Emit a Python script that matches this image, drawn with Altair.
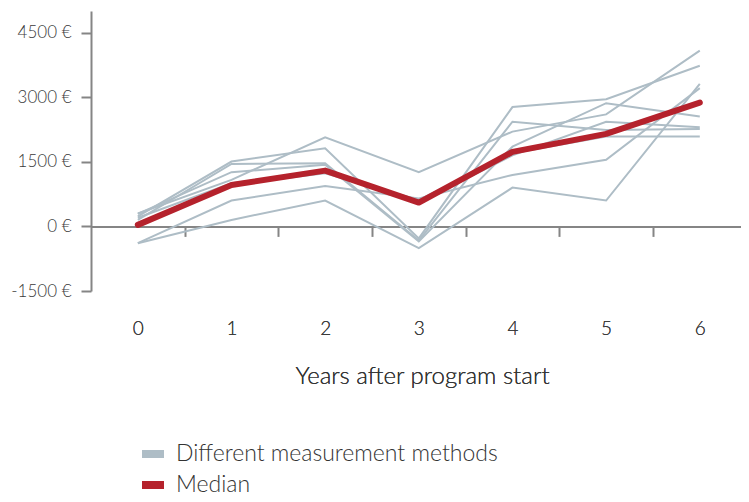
import altair as alt
import pandas as pd

years = [0, 1, 2, 3, 4, 5, 6]

method_1 = [300, 1080, 2070, 1260, 2200, 2600, 4080]
method_2 = [230, 1505, 1815, -280, 2770, 2950, 3730]
method_3 = [150, 1450, 1467, -330, 2430, 2240, 2260]
method_4 = [290, 1258, 1430, -350, 1850, 2860, 2550]
method_5 = [50, 963, 1235, 615, 1700, 2085, 2085]
method_6 = [-390, 600, 940, 650, 1195, 1545, 3210]
method_7 = [-390, 150, 600, -505, 900, 600, 3310]
method_8 = [200, 1000, 1300, 550, 1650, 2430, 2300]
median = [35, 960, 1295, 553, 1730, 2147, 2875]

y_ticks = [-1500, 0, 1500, 3000, 4500]
between_ticks = [0.5, 1.5, 2.5, 3.5, 4.5, 5.5]

series_names = ["Different measurement methods", "Median"]
colors = ["#aebdc6", "#b5222c"]

methods = [method_1, method_2, method_3, method_4, method_5, method_6, method_7, method_8]
rows = []
for i, m in enumerate(methods):
    for yr, v in zip(years, m):
        rows.append({"year": yr, "value": v, "line": f"m{i+1}", "series": series_names[0]})
df_methods = pd.DataFrame(rows)
df_median = pd.DataFrame({"year": years, "value": median, "line": "median", "series": series_names[1]})

font = "Lato"
axis_gray = "#858585"

x_scale = alt.Scale(domain=[-0.5, 6.44], nice=False, zero=False)
y_scale = alt.Scale(domain=[-1500, 5000], nice=False, zero=False)
color_scale = alt.Scale(domain=series_names, range=colors)

x_axis = alt.Axis(values=years, format="d", domain=False, ticks=False, grid=False, orient="bottom",
                  labelPadding=28, labelFontSize=19, labelColor="#3a3a3a", labelFont=font,
                  labelFontWeight=300,
                  title="Years after program start", titleFontSize=24, titleFont=font,
                  titleFontWeight=300, titleColor="#333", titlePadding=26, titleX=331)
y_axis = alt.Axis(values=y_ticks, labelExpr="datum.value + ' €'", grid=False,
                  domainColor=axis_gray, domainWidth=2, tickColor=axis_gray, tickWidth=2,
                  tickSize=10, labelPadding=10, labelFontSize=17, labelColor="#3a3a3a",
                  labelFont=font, labelFontWeight=300, title=None)

legend = alt.Legend(title=None, orient="none", legendX=47, legendY=428, symbolType="stroke",
                    symbolStrokeWidth=8, symbolSize=484, labelFontSize=23, labelFont=font,
                    labelFontWeight=300, labelColor="#333", labelOffset=8, rowPadding=-6,
                    labelLimit=500)

gray_lines = alt.Chart(df_methods).mark_line(strokeWidth=2).encode(
    x=alt.X("year:Q", scale=x_scale, axis=x_axis),
    y=alt.Y("value:Q", scale=y_scale, axis=y_axis),
    detail="line:N",
    color=alt.Color("series:N", scale=color_scale, legend=legend),
)

median_line = alt.Chart(df_median).mark_line(strokeWidth=6, strokeCap="round", strokeJoin="round").encode(
    x=alt.X("year:Q", scale=x_scale, axis=x_axis),
    y=alt.Y("value:Q", scale=y_scale, axis=y_axis),
    color=alt.Color("series:N", scale=color_scale, legend=legend),
)

zero_axis_data = pd.DataFrame({"year": between_ticks})
zero_axis = alt.Chart(zero_axis_data).mark_point(opacity=0).encode(
    x=alt.X("year:Q", scale=x_scale,
            axis=alt.Axis(values=between_ticks, labels=False, grid=False, orient="bottom",
                          offset=-64.6, domainColor=axis_gray, domainWidth=2,
                          tickColor=axis_gray, tickWidth=2, tickSize=10, title=None)),
    y=alt.Y("zero:Q", scale=y_scale, axis=y_axis),
).transform_calculate(zero="0")

chart = alt.layer(gray_lines, median_line, zero_axis).resolve_scale(x="independent").properties(
    width=650, height=280,
    autosize=alt.AutoSizeParams(type="none"),
    padding={"left": 83, "top": 3, "right": 0, "bottom": 203},
).configure_view(stroke=None).configure_axis(
    labelFont=font, titleFont=font, titleFontWeight=300, labelFontWeight=300
)

chart.save("out.html", embed_options={"renderer": "svg", "actions": False})
